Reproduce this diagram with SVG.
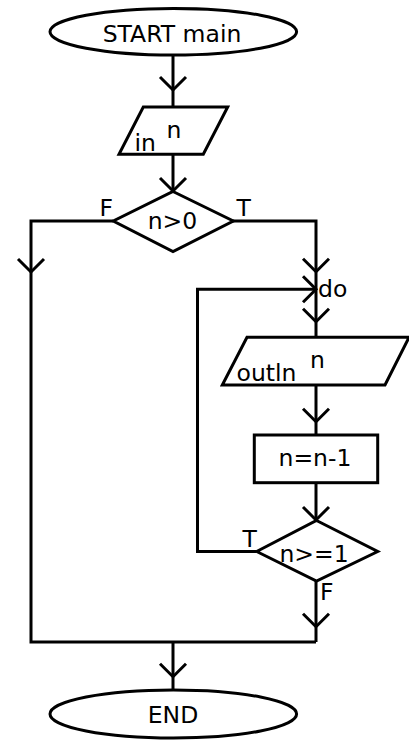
<svg xmlns="http://www.w3.org/2000/svg" width="409" height="740" viewBox="0 0 409 740">
<style>
.s{fill:#fff;stroke:#000;stroke-width:3}
.c{fill:none;stroke:#000;stroke-width:3;stroke-linejoin:miter}
.t{font-family:"DejaVu Sans","Liberation Sans",sans-serif;font-size:23.5px;fill:#000}
.m{text-anchor:middle}
</style>
<defs>
<path id="ah" d="M-13,-13 L0,0 L13,-13" fill="none" stroke="#000" stroke-width="3"/>
</defs>
<rect width="409" height="740" fill="#fff"/>
<g id="connectors">
<path class="c" d="M173,55 V107"/>
<path class="c" d="M173,154 V191"/>
<path class="c" d="M113,221 H31 V642 H316"/>
<path class="c" d="M233,221 H316 V337"/>
<path class="c" d="M256.5,551.5 H197.5 V289.3 H316"/>
<path class="c" d="M316,385 V435"/>
<path class="c" d="M316,483 V520"/>
<path class="c" d="M316,581 V642"/>
<path class="c" d="M173,642 V690"/>
<use href="#ah" transform="translate(173,90)"/>
<use href="#ah" transform="translate(173,191)"/>
<use href="#ah" transform="translate(31,272)"/>
<use href="#ah" transform="translate(316,271.7)"/>
<use href="#ah" transform="translate(316,289.3) rotate(-90)"/>
<use href="#ah" transform="translate(316,321.7)"/>
<use href="#ah" transform="translate(316,421.7)"/>
<use href="#ah" transform="translate(316,520)"/>
<use href="#ah" transform="translate(316,626.7)"/>
<use href="#ah" transform="translate(173,676.7)"/>
<text class="t" x="99.5" y="216">F</text>
<text class="t" x="236.5" y="216">T</text>
<text class="t" x="242.5" y="547">T</text>
<text class="t" x="320" y="600">F</text>
<text class="t" x="318" y="296.5">do</text>
</g>
<g id="start">
<ellipse class="s" cx="173.3" cy="31.7" rx="123.3" ry="23.3"/>
<text class="t m" x="172" y="41.7" font-size="24.5">START main</text>
</g>
<g id="input">
<polygon class="s" points="143.3,107 227.7,107 203.3,154.3 119,154.3"/>
<text class="t" x="134.5" y="150.5" font-size="22.5">in</text>
<text class="t" x="166.5" y="137.7" font-size="22.5">n</text>
</g>
<g id="cond1">
<polygon class="s" points="173,191.5 233.3,221 173,251.5 113.3,221"/>
<text class="t m" x="172.5" y="228.5">n&gt;0</text>
</g>
<g id="output">
<polygon class="s" points="247,337.3 409,337.3 385,385 222.3,385"/>
<text class="t" x="236.5" y="381" font-size="24">outln</text>
<text class="t" x="310" y="368" font-size="22.5">n</text>
</g>
<g id="decrement">
<rect class="s" x="254.3" y="435" width="123.4" height="47.7"/>
<text class="t m" x="315" y="466" font-size="24.5">n=n-1</text>
</g>
<g id="cond2">
<polygon class="s" points="316.5,520.5 377.7,551.5 316.5,581 256.7,551.5"/>
<text class="t m" x="314" y="561.5" font-size="22.5">n&gt;=1</text>
</g>
<g id="end">
<ellipse class="s" cx="173.3" cy="714" rx="123.3" ry="24"/>
<text class="t m" x="173" y="722.7">END</text>
</g>
</svg>
